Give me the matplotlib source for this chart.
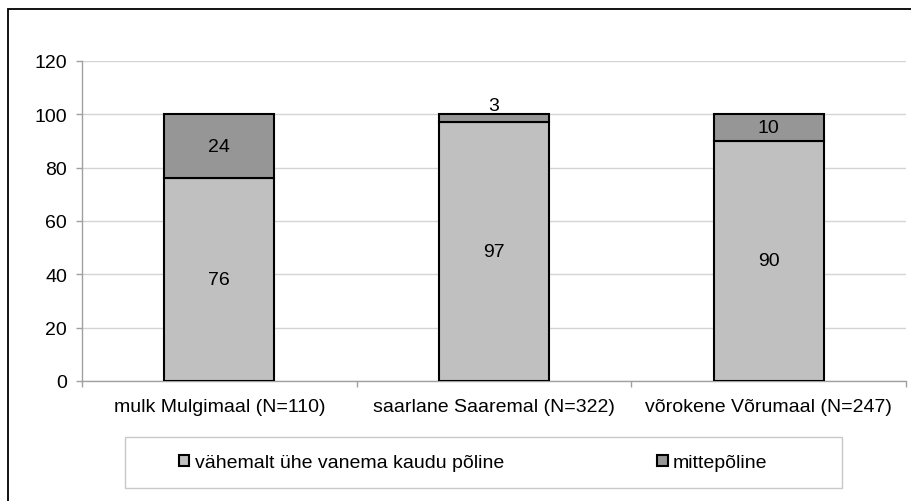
import matplotlib.pyplot as plt
from matplotlib.patches import Rectangle
import numpy as np

plt.rcParams['font.family'] = ['Liberation Sans', 'DejaVu Sans']

categories = ['mulk Mulgimaal (N=110)', 'saarlane Saaremal (N=322)', 'võrokene Võrumaal (N=247)']
native = [76, 97, 90]
non_native = [24, 3, 10]
series_names = ['vähemalt ühe vanema kaudu põline', 'mittepõline']
yticks = [0, 20, 40, 60, 80, 100, 120]

W, H = 911, 502
FS = 14
fig = plt.figure(figsize=(W / 100, H / 100), dpi=100)
ax = fig.add_axes([82 / W, 1 - 382 / H, (906 - 82) / W, (382 - 62) / H])

x = np.arange(len(categories))
light = '#c0c0c0'
dark = '#969696'
b1 = ax.bar(x, native, width=0.4, color=light, edgecolor='black', linewidth=1.5,
            label=series_names[0], zorder=3)
b2 = ax.bar(x, non_native, width=0.4, bottom=native, color=dark, edgecolor='black',
            linewidth=1.5, label=series_names[1], zorder=3)

for xi, v in zip(x, native):
    ax.text(xi, v / 2, str(v), ha='center', va='center', fontsize=FS, zorder=4)
for xi, base, v in zip(x, native, non_native):
    if v >= 8:
        ax.text(xi, base + v / 2, str(v), ha='center', va='center', fontsize=FS, zorder=4)
    else:
        # too thin for the label, put it on top of the bar
        ax.annotate(str(v), (xi, base + v), xytext=(0, 0.5), textcoords='offset points',
                    ha='center', va='bottom', fontsize=FS, zorder=4)

ax.set_xlim(-0.5, len(categories) - 0.5)
ax.set_ylim(0, 120)
ax.set_yticks(yticks)
ax.yaxis.grid(True, color='#d4d4d4', linewidth=1.0, zorder=0)
ax.set_axisbelow(True)

ax.set_xticks(x)
ax.set_xticklabels(categories, fontsize=FS)
ax.tick_params(axis='x', length=0, pad=12)
ax.set_xticks(np.arange(len(categories) + 1) - 0.5, minor=True)
ax.tick_params(axis='x', which='minor', length=4.3, color='#a0a0a0', width=1)
ax.tick_params(axis='y', length=4.3, color='#a0a0a0', width=1, labelsize=FS, pad=6.5)

for side in ['top', 'right']:
    ax.spines[side].set_visible(False)
for side in ['left', 'bottom']:
    ax.spines[side].set_color('#a0a0a0')
    ax.spines[side].set_linewidth(1.0)

# legend frame drawn separately so its width can be fixed
lx0, lx1, ly0, ly1 = 125, 842, 438, 489
fig.patches.append(Rectangle((lx0 / W, 1 - ly1 / H), (lx1 - lx0) / W, (ly1 - ly0) / H,
                             transform=fig.transFigure, fill=False,
                             edgecolor='#c8c8c8', linewidth=1.0))
fig.legend(handles=[b1, b2], loc='center left',
           bbox_to_anchor=(179 / W, 1 - 464 / H), ncol=2, frameon=False,
           fontsize=FS, handlelength=0.52, handleheight=0.52, handletextpad=0.28,
           columnspacing=7.9, borderpad=0, borderaxespad=0)

# outer chart border
fig.patches.append(Rectangle((8 / W, -0.1), 2, 1.1 - 10 / H, transform=fig.transFigure,
                             fill=False, edgecolor='black', linewidth=1.3))

fig.savefig('out.png', dpi=100)
